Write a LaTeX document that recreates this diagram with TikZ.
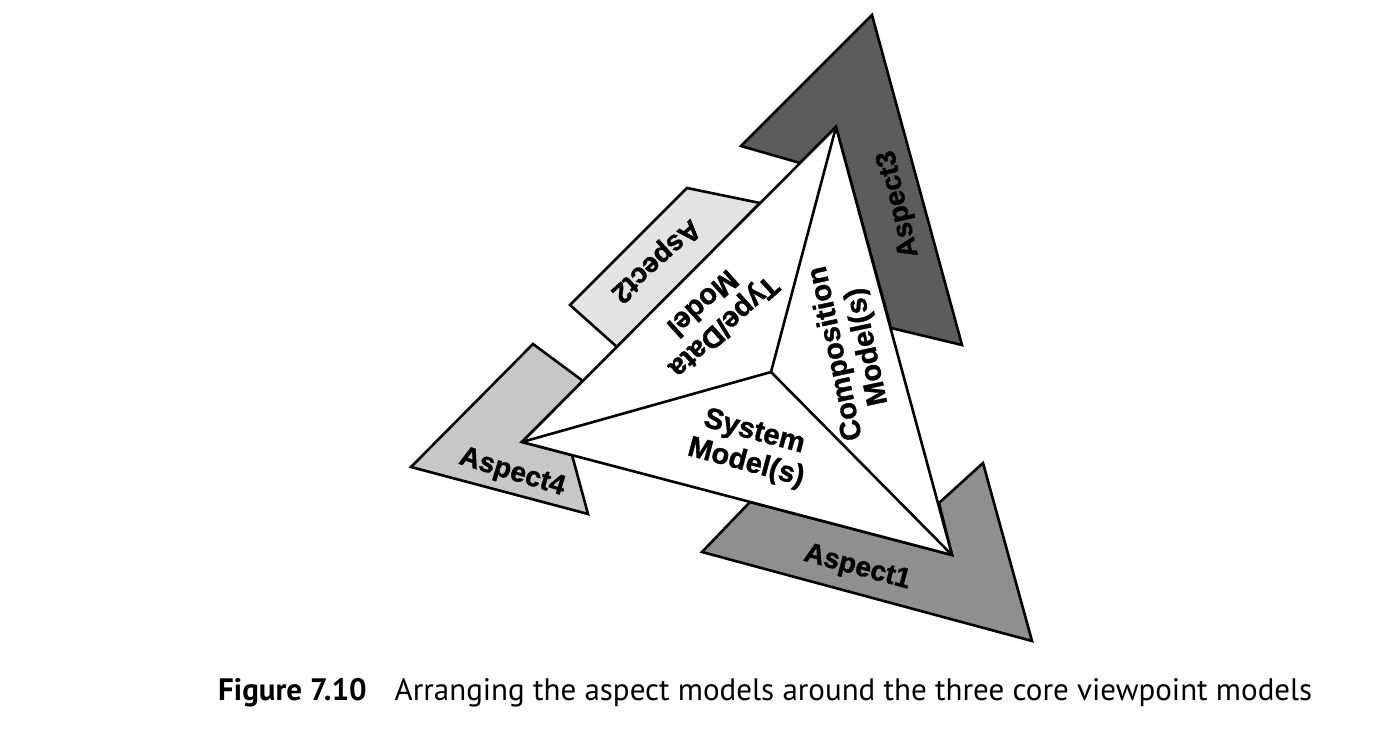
\documentclass[tikz,border=0pt]{standalone}
\usepackage{fontspec}
\usepackage{tikz}
\usetikzlibrary{positioning}
\newfontfamily\aspectfont{Liberation Sans}[BoldFeatures={FakeBold=1.2}]
\newfontfamily\capfont{PT Sans}
\definecolor{aspectA}{gray}{0.56}
\definecolor{aspectB}{gray}{0.89}
\definecolor{aspectC}{gray}{0.36}
\definecolor{aspectD}{gray}{0.78}
\tikzstyle{aspect} = [draw, line width=2.6pt, line join=miter]
\tikzstyle{core} = [draw, line width=2.6pt, fill=white]
\tikzstyle{aspectlabel} = [font=\aspectfont\bfseries\fontsize{28}{30}\selectfont, align=center]
\tikzstyle{corelabel} = [font=\aspectfont\bfseries\fontsize{29}{32}\selectfont, align=center]

\begin{document}
\begin{tikzpicture}[x=1pt,y=-1pt]
    \useasboundingbox (0,0) rectangle (1396,734);
    % corners of the core triangle
    \coordinate (top) at (836,127);
    \coordinate (left) at (522,442);
    \coordinate (right) at (952,555);
    \coordinate (mid) at (771,372);

    % aspect models behind the triangle
    \draw[aspect, fill=aspectC] (872,15) -- (962,345) -- (891,328) -- (top) -- (800,163) -- (741,146) -- cycle;
    \draw[aspect, fill=aspectB] (687,188) -- (760,203) -- (617,347) -- (570,305) -- cycle;
    \draw[aspect, fill=aspectD] (411,467) -- (533,344) -- (583,381) -- (left) -- (572,455) -- (588,514) -- cycle;
    \draw[aspect, fill=aspectA] (702,552) -- (750,502) -- (right) -- (939,503) -- (983,463) -- (1032,641) -- cycle;

    % core viewpoint models
    \draw[core] (top) -- (left) -- (right) -- cycle;
    \draw[line width=2.6pt] (mid) -- (top);
    \draw[line width=2.6pt] (mid) -- (left);
    \draw[line width=2.6pt] (mid) -- (right);

    \node [aspectlabel, rotate=-15] (aspect1) at (857,568) {Aspect1};
    \node [aspectlabel, rotate=222] (aspect2) at (655,260) {Aspect2};
    \node [aspectlabel, rotate=103] (aspect3) at (899,204) {Aspect3};
    \node [aspectlabel, rotate=-17] (aspect4) at (512,473) {Aspect4};

    \node [corelabel, rotate=-15] (system) at (750,448) {System\\Model(s)};
    \node [corelabel, rotate=222] (typedata) at (714,316) {Type/Data\\Model};
    \node [corelabel, rotate=102] (composition) at (852,350) {Composition\\Model(s)};

    \node [anchor=base west, inner sep=0pt] (caption) at (218,700)
        {\capfont\fontsize{31}{33}\selectfont\textbf{Figure 7.10}\hspace{28pt}Arranging the aspect models around the three core viewpoint models};
\end{tikzpicture}
\end{document}
